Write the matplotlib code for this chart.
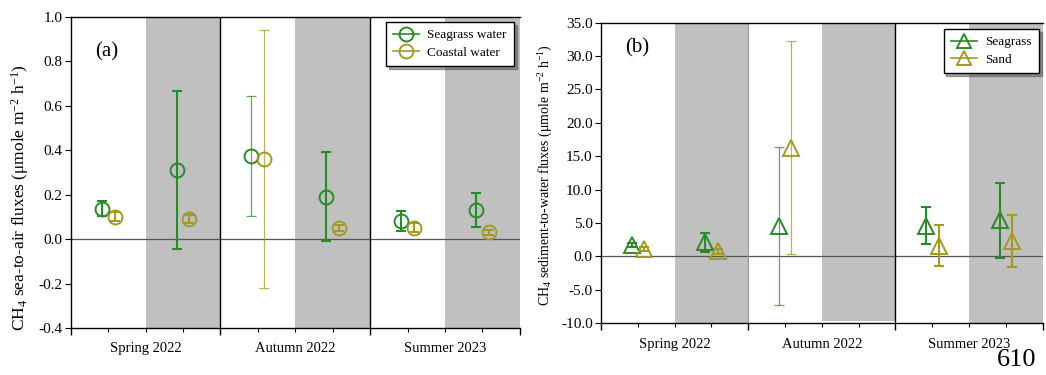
import matplotlib
matplotlib.use("Agg")
import matplotlib.pyplot as plt
from matplotlib.lines import Line2D
import numpy as np

plt.rcParams['font.family'] = ['Liberation Serif', 'DejaVu Serif']
plt.rcParams['mathtext.fontset'] = 'custom'
plt.rcParams['mathtext.rm'] = 'Liberation Serif'
plt.rcParams['mathtext.it'] = 'Liberation Serif:italic'

# ---- data -------------------------------------------------------------
seasons = ["Spring 2022", "Autumn 2022", "Summer 2023"]
# positions of the six sampling slots (white / grey per season)
slots = [1, 3, 5, 7, 9, 11]

# (a) CH4 sea-to-air fluxes
seagrass_water = [0.137, 0.31, 0.375, 0.19, 0.08, 0.13]
seagrass_water_err = [0.035, 0.355, 0.27, 0.20, 0.045, 0.077]
coastal_water = [0.10, 0.09, 0.36, 0.05, 0.05, 0.03]
coastal_water_err = [0.02, 0.02, 0.58, 0.012, 0.02, 0.012]

# (b) CH4 sediment-to-water fluxes (no data in autumn grey slot)
seagrass_sed = [1.75, 2.1, 4.6, np.nan, 4.6, 5.4]
seagrass_sed_err = [0.3, 1.4, 11.8, np.nan, 2.8, 5.6]
sand_sed = [1.1, 0.75, 16.3, np.nan, 1.6, 2.3]
sand_sed_err = [0.3, 0.4, 16.0, np.nan, 3.05, 3.9]

GREEN = "#2a8a2a"
OLIVE = "#a39a25"
GREY = "#c0c0c0"
OFF = 0.17

fig = plt.figure(figsize=(10.46, 3.75), dpi=100)
ax_a = fig.add_axes([0.0676, 0.1253, 0.4294, 0.8302])
ax_b = fig.add_axes([0.5746, 0.1379, 0.4222, 0.8016])


def frame(ax, ylo, yhi, ticks, fmt, autumn_grey_floor=None):
    ax.set_xlim(0, 12)
    ax.set_ylim(ylo, yhi)
    for i, x0 in enumerate([2, 6, 10]):
        if i == 1 and autumn_grey_floor is not None:
            ymin = (autumn_grey_floor - ylo) / (yhi - ylo)
        else:
            ymin = 0
        ax.axvspan(x0, x0 + 2, ymin=ymin, color=GREY, lw=0, zorder=0)
    ax.axhline(0, color="#555555", lw=0.9, zorder=1)
    ax.set_yticks(ticks)
    ax.set_yticklabels([fmt.format(t) for t in ticks], fontsize=11)
    ax.set_xticks([0, 4, 8, 12])
    ax.set_xticks(np.arange(0, 13, 1), minor=True)
    ax.set_xticklabels([])
    ax.tick_params(axis="x", which="major", length=5, width=1, direction="out")
    ax.tick_params(axis="x", which="minor", length=3, width=0.8, direction="out")
    ax.tick_params(axis="y", length=4, width=0.8, direction="out", pad=2)
    for x, s in zip([2, 6, 10], seasons):
        ax.annotate(s, xy=(x, 0), xycoords=ax.get_xaxis_transform(),
                    xytext=(0, -15), textcoords="offset points",
                    ha="center", va="center", fontsize=10.5)
    ax.spines["right"].set_visible(False)
    for sp in ["top", "left", "bottom"]:
        ax.spines[sp].set_linewidth(1.0)


def series(ax, xs, ys, es, color, marker, ms, thin_idx):
    for i, (x, y, e) in enumerate(zip(xs, ys, es)):
        if np.isnan(y):
            continue
        lw = 0.9 if i == thin_idx else 1.5
        alpha = 0.75 if i == thin_idx else 1.0
        ax.errorbar(x, y, yerr=e, fmt="none", ecolor=color, elinewidth=lw,
                    capsize=3.5, capthick=lw, alpha=alpha, zorder=3)
        ax.plot(x, y, marker=marker, ms=ms, mfc="none", mec=color, mew=1.4,
                ls="none", zorder=4)


# ---- panel (a) --------------------------------------------------------
frame(ax_a, -0.4, 1.0, np.arange(-0.4, 1.01, 0.2), "{:.1f}")
ax_a.axvline(4, color="black", lw=1.0, zorder=2)
ax_a.axvline(8, color="black", lw=1.0, zorder=2)
xa = np.array(slots, dtype=float)
series(ax_a, xa - OFF, seagrass_water, seagrass_water_err, GREEN, "o", 10, 2)
series(ax_a, xa + OFF, coastal_water, coastal_water_err, OLIVE, "o", 10, 2)
ax_a.set_ylabel(r"CH$_4$ sea-to-air fluxes (μmole m$^{-2}$ h$^{-1}$)", fontsize=12.5)
ax_a.yaxis.set_label_coords(-0.088, 0.419)
ax_a.text(0.054, 0.887, "(a)", transform=ax_a.transAxes, fontsize=15,
          ha="left", va="center")
hdl_a = [Line2D([], [], color=GREEN, marker="o", ms=10, mfc="none", mew=1.4, lw=1.2),
         Line2D([], [], color=OLIVE, marker="o", ms=10, mfc="none", mew=1.4, lw=1.2)]
leg_a = ax_a.legend(hdl_a, ["Seagrass water", "Coastal water"], loc="upper right",
                    bbox_to_anchor=(0.987, 0.983), borderaxespad=0, fontsize=9.5,
                    frameon=True, fancybox=False, shadow=True, edgecolor="black",
                    handlelength=2.0, handletextpad=0.6, borderpad=0.55,
                    labelspacing=0.4)
leg_a.get_frame().set_linewidth(1.0)

# ---- panel (b) --------------------------------------------------------
frame(ax_b, -10, 35, np.arange(-10, 35.1, 5), "{:.1f}", autumn_grey_floor=-9.65)
ax_b.axvline(4, color="#9a9a9a", lw=0.8, zorder=2)
ax_b.axvline(8, color="black", lw=1.0, zorder=2)
series(ax_b, xa - OFF, seagrass_sed, seagrass_sed_err, GREEN, "^", 11, 2)
series(ax_b, xa + OFF, sand_sed, sand_sed_err, OLIVE, "^", 11, 2)
ax_b.set_ylabel(r"CH$_4$ sediment-to-water fluxes (μmole m$^{-2}$ h$^{-1}$)", fontsize=10)
ax_b.yaxis.set_label_coords(-0.104, 0.493)
ax_b.text(0.054, 0.916, "(b)", transform=ax_b.transAxes, fontsize=15,
          ha="left", va="center")
hdl_b = [Line2D([], [], color=GREEN, marker="^", ms=10, mfc="none", mew=1.4, lw=1.2),
         Line2D([], [], color=OLIVE, marker="^", ms=10, mfc="none", mew=1.4, lw=1.2)]
leg_b = ax_b.legend(hdl_b, ["Seagrass", "Sand"], loc="upper right",
                    bbox_to_anchor=(0.9916, 0.979), borderaxespad=0, fontsize=9.5,
                    frameon=True, fancybox=False, shadow=True, edgecolor="black",
                    handlelength=2.0, handletextpad=0.6, borderpad=0.55,
                    labelspacing=0.4)
leg_b.get_frame().set_linewidth(1.0)

fig.text(0.972, 0.04, "610", fontsize=19, ha="center", va="center")

fig.savefig("out.png", dpi=100)
